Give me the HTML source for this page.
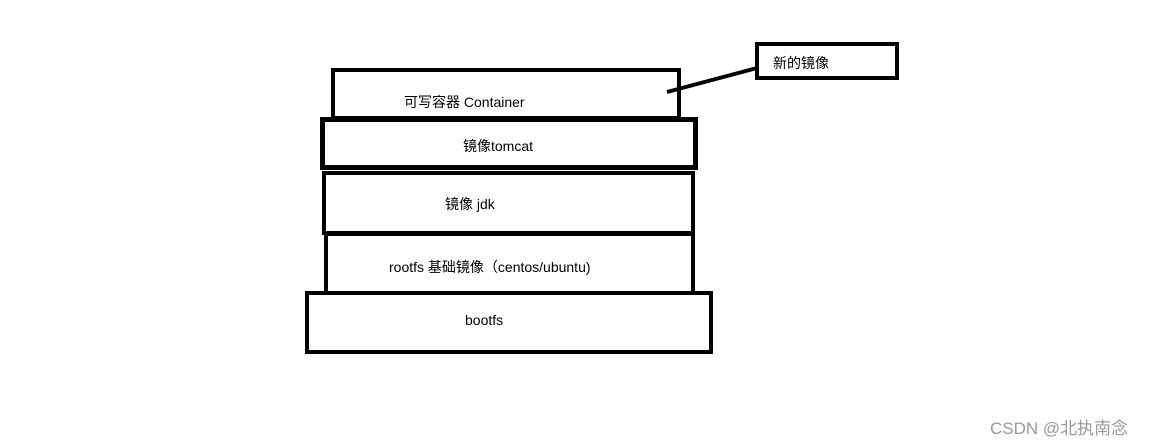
<!DOCTYPE html>
<html><head><meta charset="utf-8"><style>
body{margin:0;width:1168px;height:444px;background:#fff;position:relative;overflow:hidden;font-family:"Liberation Sans","Noto Sans CJK SC",sans-serif;}
.b{position:absolute;border:4px solid #000;box-sizing:border-box;background:#fff;}
.t{position:absolute;font-size:14px;color:#000;white-space:nowrap;}
</style></head><body>
<div class="b" style="left:331px;top:68px;width:350px;height:52px"></div>
<div class="b" style="left:320px;top:117px;width:378px;height:53px;border-width:5px"></div>
<div class="b" style="left:322px;top:171px;width:373px;height:64px"></div>
<div class="b" style="left:324px;top:232px;width:371px;height:63px"></div>
<div class="b" style="left:305px;top:291px;width:408px;height:63px"></div>
<div class="b" style="left:755px;top:42px;width:144px;height:38px"></div>
<svg style="position:absolute;left:0;top:0" width="1168" height="444"><line x1="667" y1="92" x2="757" y2="68" stroke="#000" stroke-width="4"/></svg>
<div class="t" style="left:404px;top:92px">可写容器 Container</div>
<div class="t" style="left:463px;top:136px">镜像tomcat</div>
<div class="t" style="left:445px;top:194px">镜像 jdk</div>
<div class="t" style="left:389px;top:257px">rootfs 基础镜像（centos/ubuntu)</div>
<div class="t" style="left:465px;top:312px">bootfs</div>
<div class="t" style="left:773px;top:53px">新的镜像</div>
<div class="t" style="left:990px;top:414px;font-size:17px;color:#999">CSDN @北执南念</div>
</body></html>
